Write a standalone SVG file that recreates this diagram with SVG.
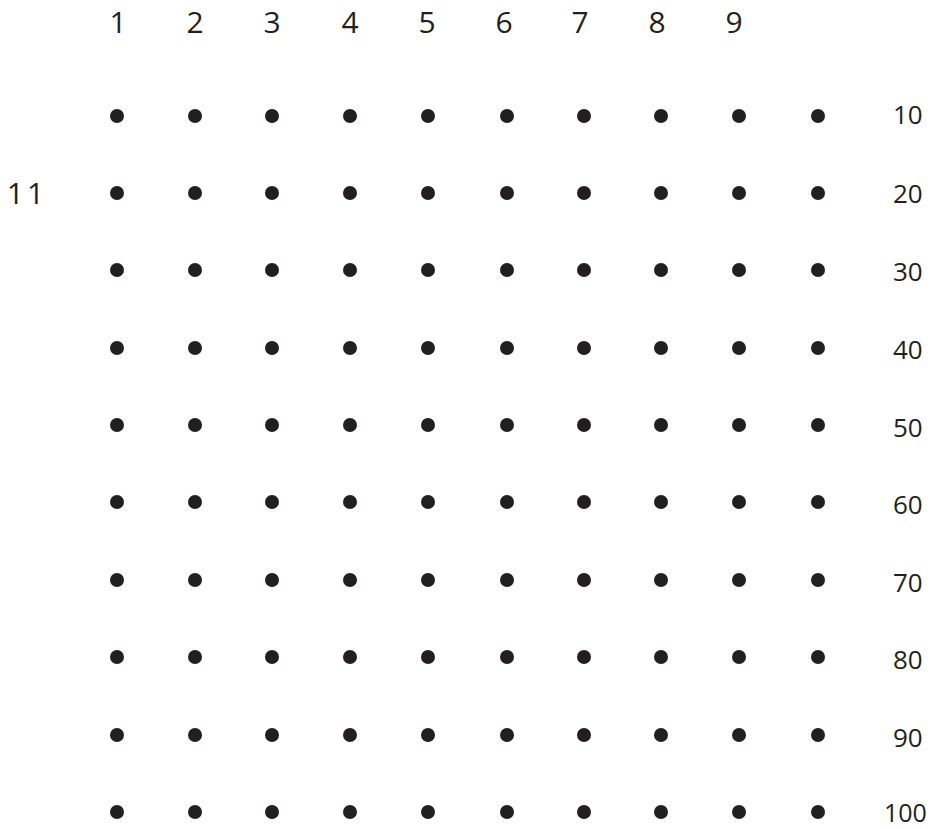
<svg xmlns="http://www.w3.org/2000/svg" width="935" height="829" viewBox="0 0 935 829">
<style>
.t{font-family:"Open Sans","Liberation Sans",sans-serif;fill:#231f20;font-size:30px;text-anchor:middle}
.r{font-family:"Open Sans","Liberation Sans",sans-serif;fill:#231f20;font-size:26px}
.d{fill:#231f20}
</style>
<defs><circle id="dot" r="7" class="d"/></defs>
<g id="top-labels">
<text class="t" x="118" y="33">1</text>
<text class="t" x="195" y="33">2</text>
<text class="t" x="272" y="33">3</text>
<text class="t" x="350" y="33">4</text>
<text class="t" x="427" y="33">5</text>
<text class="t" x="504" y="33">6</text>
<text class="t" x="580" y="33">7</text>
<text class="t" x="657" y="33">8</text>
<text class="t" x="734" y="33">9</text>
</g>
<g id="left-label"><text class="t" x="27" y="204" style="letter-spacing:3px">11</text></g>
<g id="right-labels">
<text class="r" x="893" y="124">10</text>
<text class="r" x="893" y="203">20</text>
<text class="r" x="893" y="281">30</text>
<text class="r" x="893" y="359">40</text>
<text class="r" x="893" y="437">50</text>
<text class="r" x="893" y="514">60</text>
<text class="r" x="893" y="592">70</text>
<text class="r" x="893" y="669">80</text>
<text class="r" x="893" y="747">90</text>
<text class="r" x="884" y="822" style="font-size:25px">100</text>
</g>
<g id="dots">
<g id="row1" transform="translate(0,116)"><use href="#dot" x="117"/><use href="#dot" x="195"/><use href="#dot" x="272"/><use href="#dot" x="350"/><use href="#dot" x="428"/><use href="#dot" x="507"/><use href="#dot" x="584"/><use href="#dot" x="661"/><use href="#dot" x="739"/><use href="#dot" x="818"/></g>
<g id="row2" transform="translate(0,193)"><use href="#dot" x="117"/><use href="#dot" x="195"/><use href="#dot" x="272"/><use href="#dot" x="350"/><use href="#dot" x="428"/><use href="#dot" x="507"/><use href="#dot" x="584"/><use href="#dot" x="661"/><use href="#dot" x="739"/><use href="#dot" x="818"/></g>
<g id="row3" transform="translate(0,270)"><use href="#dot" x="117"/><use href="#dot" x="195"/><use href="#dot" x="272"/><use href="#dot" x="350"/><use href="#dot" x="428"/><use href="#dot" x="507"/><use href="#dot" x="584"/><use href="#dot" x="661"/><use href="#dot" x="739"/><use href="#dot" x="818"/></g>
<g id="row4" transform="translate(0,348)"><use href="#dot" x="117"/><use href="#dot" x="195"/><use href="#dot" x="272"/><use href="#dot" x="350"/><use href="#dot" x="428"/><use href="#dot" x="507"/><use href="#dot" x="584"/><use href="#dot" x="661"/><use href="#dot" x="739"/><use href="#dot" x="818"/></g>
<g id="row5" transform="translate(0,425)"><use href="#dot" x="117"/><use href="#dot" x="195"/><use href="#dot" x="272"/><use href="#dot" x="350"/><use href="#dot" x="428"/><use href="#dot" x="507"/><use href="#dot" x="584"/><use href="#dot" x="661"/><use href="#dot" x="739"/><use href="#dot" x="818"/></g>
<g id="row6" transform="translate(0,502)"><use href="#dot" x="117"/><use href="#dot" x="195"/><use href="#dot" x="272"/><use href="#dot" x="350"/><use href="#dot" x="428"/><use href="#dot" x="507"/><use href="#dot" x="584"/><use href="#dot" x="661"/><use href="#dot" x="739"/><use href="#dot" x="818"/></g>
<g id="row7" transform="translate(0,580)"><use href="#dot" x="117"/><use href="#dot" x="195"/><use href="#dot" x="272"/><use href="#dot" x="350"/><use href="#dot" x="428"/><use href="#dot" x="507"/><use href="#dot" x="584"/><use href="#dot" x="661"/><use href="#dot" x="739"/><use href="#dot" x="818"/></g>
<g id="row8" transform="translate(0,657)"><use href="#dot" x="117"/><use href="#dot" x="195"/><use href="#dot" x="272"/><use href="#dot" x="350"/><use href="#dot" x="428"/><use href="#dot" x="507"/><use href="#dot" x="584"/><use href="#dot" x="661"/><use href="#dot" x="739"/><use href="#dot" x="818"/></g>
<g id="row9" transform="translate(0,735)"><use href="#dot" x="117"/><use href="#dot" x="195"/><use href="#dot" x="272"/><use href="#dot" x="350"/><use href="#dot" x="428"/><use href="#dot" x="507"/><use href="#dot" x="584"/><use href="#dot" x="661"/><use href="#dot" x="739"/><use href="#dot" x="818"/></g>
<g id="row10" transform="translate(0,812)"><use href="#dot" x="117"/><use href="#dot" x="195"/><use href="#dot" x="272"/><use href="#dot" x="350"/><use href="#dot" x="428"/><use href="#dot" x="507"/><use href="#dot" x="584"/><use href="#dot" x="661"/><use href="#dot" x="739"/><use href="#dot" x="818"/></g>
</g>
</svg>
